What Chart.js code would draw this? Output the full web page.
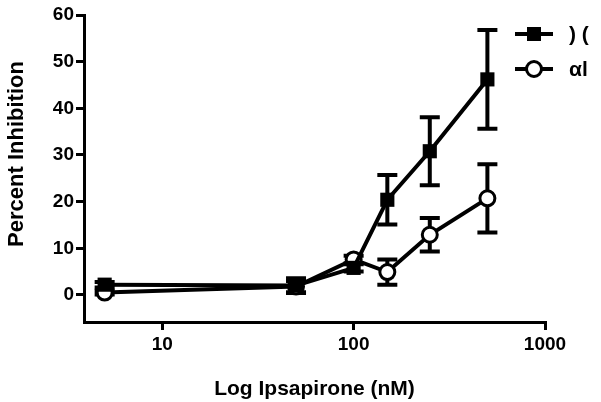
<!DOCTYPE html>
<html>
<head>
<meta charset="utf-8">
<script src="https://cdn.jsdelivr.net/npm/chart.js@4/dist/chart.umd.min.js"></script>
<style>
  html, body { margin: 0; padding: 0; background: #fff; }
  #wrap { width: 601px; height: 402px; }
</style>
</head>
<body>
<div id="wrap"><canvas id="myChart" width="601" height="402"></canvas></div>
<script>
// doses (nM)
var doses = [5, 50, 100, 150, 250, 500];
// filled squares
var filledLabel = ') (';
var filledMean = [2.2, 2.0, 5.8, 20.4, 30.8, 46.2];
var filledErr = [0.6, 1.6, 0.8, 5.3, 7.3, 10.6];
// open circles
var openLabel = '\u03b1l';
var openMean = [0.5, 1.8, 7.6, 4.9, 12.9, 20.7];
var openErr = [0.4, 1.2, 0.8, 2.7, 3.6, 7.3];

var yTicks = [0, 10, 20, 30, 40, 50, 60];
var xTicks = [10, 100, 1000];
var yTitle = 'Percent Inhibition';
var xTitle = 'Log Ipsapirone (nM)';

var FONT = '"Liberation Sans", Arial, sans-serif';

function toPoints(xs, ys) {
  return xs.map(function (x, i) { return { x: x, y: ys[i] }; });
}

// error bars drawn through the scales, behind the markers
var errorBars = {
  id: 'errorBars',
  beforeDatasetsDraw: function (chart) {
    var ctx = chart.ctx;
    var xs = chart.scales.x, ys = chart.scales.y;
    ctx.save();
    ctx.strokeStyle = '#000';
    ctx.lineWidth = 4;
    ctx.lineCap = 'butt';
    chart.data.datasets.forEach(function (ds) {
      ds.data.forEach(function (p, i) {
        var e = ds.errors[i];
        var px = xs.getPixelForValue(p.x);
        var top = ys.getPixelForValue(p.y + e);
        var bot = ys.getPixelForValue(p.y - e);
        ctx.beginPath();
        ctx.moveTo(px, top); ctx.lineTo(px, bot);
        ctx.moveTo(px - 10, top); ctx.lineTo(px + 10, top);
        ctx.moveTo(px - 10, bot); ctx.lineTo(px + 10, bot);
        ctx.stroke();
      });
    });
    ctx.restore();
  }
};

// y title sits a bit above the axis centre in the original
var yTitlePlugin = {
  id: 'yTitlePlugin',
  afterDraw: function (chart) {
    var ctx = chart.ctx;
    ctx.save();
    ctx.translate(17, 154);
    ctx.rotate(-Math.PI / 2);
    ctx.fillStyle = '#000';
    ctx.font = 'bold 22px ' + FONT;
    ctx.textAlign = 'center';
    ctx.textBaseline = 'middle';
    ctx.fillText(yTitle, 0, 0);
    ctx.restore();
  }
};

// legend with line + marker, like the original
var sideLegend = {
  id: 'sideLegend',
  afterDraw: function (chart) {
    var ctx = chart.ctx;
    var rows = [
      { y: 34, ds: chart.data.datasets[0] },
      { y: 69, ds: chart.data.datasets[1] }
    ];
    ctx.save();
    rows.forEach(function (r) {
      ctx.strokeStyle = '#000';
      ctx.lineWidth = 4;
      ctx.beginPath();
      ctx.moveTo(515, r.y); ctx.lineTo(553, r.y);
      ctx.stroke();
      ctx.fillStyle = r.ds.pointBackgroundColor;
      ctx.lineWidth = r.ds.pointBorderWidth;
      ctx.beginPath();
      if (r.ds.pointStyle === 'rect') {
        ctx.rect(534 - 7, r.y - 7, 14, 14);
        ctx.fill();
      } else {
        ctx.arc(534, r.y, 7.5, 0, Math.PI * 2);
        ctx.fill();
        ctx.stroke();
      }
      ctx.fillStyle = '#000';
      ctx.font = 'bold 21px ' + FONT;
      ctx.textBaseline = 'middle';
      ctx.textAlign = 'left';
      ctx.fillText(r.ds.label, 569, r.y + 1);
    });
    ctx.restore();
  }
};

var ctx = document.getElementById('myChart').getContext('2d');
var chart = new Chart(ctx, {
  type: 'line',
  data: {
    datasets: [{
      label: filledLabel,
      data: toPoints(doses, filledMean),
      errors: filledErr,
      borderColor: '#000',
      borderWidth: 4,
      pointStyle: 'rect',
      pointRadius: 10,
      pointBackgroundColor: '#000',
      pointBorderColor: '#000',
      pointBorderWidth: 0
    }, {
      label: openLabel,
      data: toPoints(doses, openMean),
      errors: openErr,
      borderColor: '#000',
      borderWidth: 4,
      pointStyle: 'circle',
      pointRadius: 7.5,
      pointBackgroundColor: '#fff',
      pointBorderColor: '#000',
      pointBorderWidth: 3
    }]
  },
  options: {
    responsive: false,
    animation: false,
    layout: { padding: { top: 15, right: 56, left: 0, bottom: 0 } },
    plugins: {
      legend: { display: false },
      tooltip: { enabled: false }
    },
    scales: {
      x: {
        type: 'logarithmic',
        min: 3.9,
        max: 1000,
        afterBuildTicks: function (s) { s.ticks = xTicks.map(function (v) { return { value: v }; }); },
        afterFit: function (s) { s.height = 80; },
        border: { display: true, color: '#000', width: 3 },
        grid: { display: true, drawOnChartArea: false, drawTicks: true, tickLength: 8, color: '#000', lineWidth: 3 },
        ticks: {
          color: '#000',
          font: { family: FONT, size: 19, weight: 'bold' },
          padding: 3,
          maxRotation: 0,
          callback: function (v) { return String(v); }
        },
        title: {
          display: true,
          text: xTitle,
          color: '#000',
          font: { family: FONT, size: 21, weight: 'bold' },
          padding: { top: 10, bottom: 0 }
        }
      },
      y: {
        min: -5.8,
        max: 60,
        afterBuildTicks: function (s) { s.ticks = yTicks.map(function (v) { return { value: v }; }); },
        afterFit: function (s) { s.width = 84; },
        border: { display: true, color: '#000', width: 3 },
        grid: { display: true, drawOnChartArea: false, drawTicks: true, tickLength: 8, color: '#000', lineWidth: 3 },
        ticks: {
          color: '#000',
          font: { family: FONT, size: 19, weight: 'bold' },
          padding: 2
        }
      }
    }
  },
  plugins: [errorBars, yTitlePlugin, sideLegend]
});
</script>
</body>
</html>
